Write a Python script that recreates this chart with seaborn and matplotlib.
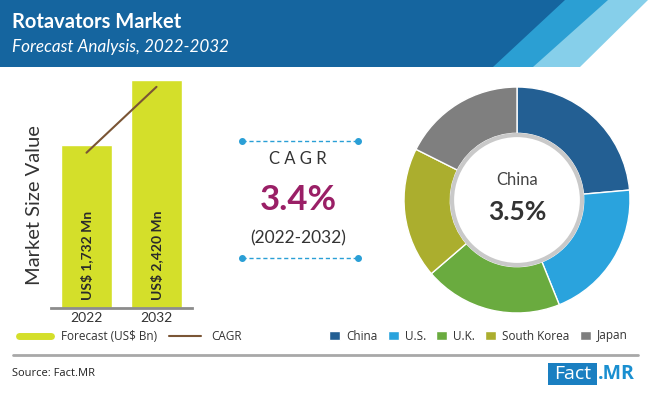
import numpy as np
import pandas as pd
import seaborn as sns
import matplotlib.pyplot as plt
from matplotlib.patches import Polygon, Rectangle, Circle
from matplotlib.lines import Line2D

# ---- data ----
years = ["2022", "2032"]
market_value = [1732, 2420]          # US$ Mn
bar_labels = ["US$ 1,732 Mn", "US$ 2,420 Mn"]
cagr_trend = [1650, 2350]            # decorative CAGR line over the bars

countries = ["China", "U.S.", "U.K.", "South Korea", "Japan"]
country_share = [23.6, 20.3, 19.8, 18.7, 17.6]
country_colors = ["#235f93", "#2aa3dd", "#6aab3f", "#abae2e", "#7f7f7f"]

cagr_value = "3.4%"
cagr_period = "(2022-2032)"
focus_country = "China"
focus_cagr = "3.5%"

W, H = 650, 395
BAR_COLOR = "#d4df2a"
LINE_COLOR = "#7a5535"
TEXT = "#333333"
UI_FONT = ["Open Sans", "DejaVu Sans"]

sns.set_theme(style="white")
plt.rcParams["font.family"] = ["Lato", "DejaVu Sans"]

fig = plt.figure(figsize=(6.5, 3.95), dpi=100)


def frac(x0, y0, x1, y1):
    # pixel box (origin top-left) -> figure fraction rect
    return [x0 / W, 1 - y1 / H, (x1 - x0) / W, (y1 - y0) / H]


# background canvas in pixel coords
bg = fig.add_axes([0, 0, 1, 1])
bg.set_xlim(0, W)
bg.set_ylim(H, 0)
bg.axis("off")

# header band
bg.add_patch(Rectangle((0, 0), W, 67, color="#15659f", lw=0))
bg.add_patch(Polygon([(493, 67), (565, 0), (W, 0), (W, 67)], color="#2b9fd3", lw=0))
bg.add_patch(Polygon([(533, 67), (608, 0), (W, 0), (W, 67)], color="#86cfea", lw=0))
bg.add_patch(Polygon([(580, 67), (648, 0), (W, 0), (W, 67)], color="white", lw=0))
bg.text(12, 22, "Rotavators Market", color="white", fontsize=14.5,
        fontweight="bold", va="center")
bg.text(12, 47, "Forecast Analysis, 2022-2032", color="white", fontsize=12.3,
        style="italic", va="center")

# ---- bar chart ----
ax1 = fig.add_axes(frac(51, 70, 192, 308))
df = pd.DataFrame({"year": years, "value": market_value})
sns.barplot(data=df, x="year", y="value", color=BAR_COLOR, saturation=1,
            width=0.74, ax=ax1)
sns.lineplot(x=[0, 1], y=cagr_trend, color=LINE_COLOR, lw=1.5, ax=ax1)
ax1.set_xlim(-0.507, 1.507)
ax1.set_ylim(0, 2529)
ax1.set_xlabel("")
ax1.set_ylabel("")
ax1.set_yticks([])
for s in ["left", "top", "right"]:
    ax1.spines[s].set_visible(False)
ax1.spines["bottom"].set_color("#8c8c8c")
ax1.spines["bottom"].set_linewidth(2)
ax1.tick_params(axis="x", length=0, labelsize=10, colors=TEXT, pad=3)
ax1.set_facecolor("none")
for i, lab in enumerate(bar_labels):
    ax1.text(i, 85, lab, rotation=90, ha="center", va="bottom", fontsize=10,
             fontweight="bold", color="#2a2a2a")
bg.text(35, 205, "Market Size Value", rotation=90, ha="center", va="center",
        fontsize=14.5, color=TEXT)

fig.legend(handles=[Line2D([], [], color=BAR_COLOR, lw=5),
                    Line2D([], [], color=LINE_COLOR, lw=1.5)],
           labels=["Forecast (US$ Bn)", "CAGR"], ncol=2, frameon=False,
           loc="center left", bbox_to_anchor=(8 / W, 1 - 337 / H),
           handlelength=2.7, handletextpad=0.9, columnspacing=1.0,
           prop={"family": UI_FONT, "size": 8.5}, labelcolor=TEXT)

# ---- CAGR block ----
for yy in (141, 258):
    bg.plot([242, 358], [yy, yy], ls=(0, (3, 2)), color="#2a9fd6", lw=1)
    bg.plot([242, 358], [yy, yy], "o", color="#2a9fd6", ms=4)
bg.text(298, 159, "C A G R", ha="center", va="center", fontsize=12, color=TEXT)
bg.text(298, 200, cagr_value, ha="center", va="center", fontsize=25,
        fontweight="bold", color="#9a1f66")
bg.text(298, 238, cagr_period, ha="center", va="center", fontsize=12.5,
        color=TEXT)

# ---- donut ----
ax2 = fig.add_axes(frac(401.75, 84.75, 632.25, 315.25))
wedges, _ = ax2.pie(country_share, colors=country_colors, startangle=90,
                    counterclock=False, radius=1,
                    wedgeprops=dict(width=0.41, edgecolor="white", linewidth=1))
ax2.set_xlim(-1.02, 1.02)
ax2.set_ylim(-1.02, 1.02)
ax2.add_patch(Circle((0, 0), 0.575, facecolor="white", edgecolor="#c9c9c9", lw=3))
ax2.text(0, 0.177, focus_country, ha="center", va="center", fontsize=12,
         color="#444444")
ax2.text(0, -0.106, focus_cagr, ha="center", va="center", fontsize=19,
         fontweight="bold", color=TEXT)

fig.legend(handles=wedges, labels=countries, ncol=5, frameon=False,
           loc="center right", bbox_to_anchor=(638 / W, 1 - 336 / H),
           handlelength=0.9, handleheight=0.9, handletextpad=0.5,
           columnspacing=0.9, prop={"family": UI_FONT, "size": 8.5},
           labelcolor=TEXT)

# ---- footer ----
bg.plot([13, 638], [355, 355], color="#a8a8a8", lw=2)
bg.text(12, 373, "Source: Fact.MR", fontsize=8, va="center", color="#222222",
        family=UI_FONT)
bg.add_patch(Rectangle((548, 363), 49, 22, color="#1a7fc1", lw=0))
bg.text(572.5, 374, "Fact", ha="center", va="center", fontsize=14, color="white",
        family=UI_FONT)
bg.text(598, 374, ".MR", ha="left", va="center", fontsize=14, color="#1a8fd0",
        fontweight="bold", family=UI_FONT)

fig.savefig("out.png", dpi=100, facecolor="white")
